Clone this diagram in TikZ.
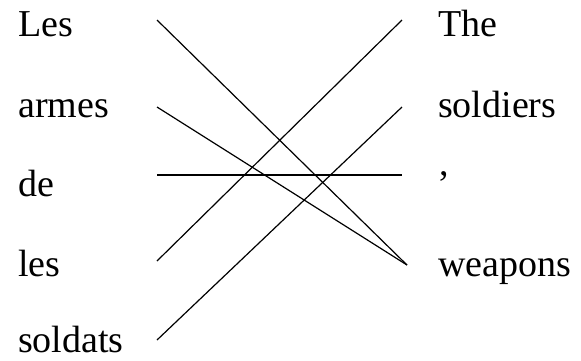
\documentclass[tikz,border=0pt]{standalone}
\usepackage{fontspec}
\setmainfont{Liberation Serif}
\usetikzlibrary{positioning}

\begin{document}
\begin{tikzpicture}[
  x=1pt, y=-1pt,
  palabra/.style={anchor=base west, inner sep=0pt, font=\fontsize{38}{40}\selectfont},
  enlace/.style={line width=1.2pt}
]
\useasboundingbox (0,0) rectangle (581,360);

% source side
\node[palabra] (les1) at (18,36) {Les};
\node[palabra] (armes) at (18,117) {armes};
\node[palabra] (de) at (18,196) {de};
\node[palabra] (les2) at (18,276) {les};
\node[palabra] (soldats) at (18,352) {soldats};

% target side
\node[palabra] (the) at (438,36) {The};
\node[palabra] (soldiers) at (438,117) {soldiers};
\node[palabra] (coma) at (439,175) {,};
\node[palabra] (weapons) at (438,276) {weapons};

% line ends
\coordinate (sLes) at (157,20);
\coordinate (sArmes) at (157,107);
\coordinate (sDe) at (157,175);
\coordinate (sLes2) at (157,261);
\coordinate (sSoldats) at (157,340);
\coordinate (tThe) at (402,20);
\coordinate (tSoldiers) at (402,107);
\coordinate (tComa) at (402,175);
\coordinate (tWeapons) at (407,265);

\draw[enlace] (sLes) -- (tWeapons);
\draw[enlace] (sArmes) -- (tWeapons);
\draw[enlace] (sDe) -- (tComa);
\draw[enlace] (sLes2) -- (tThe);
\draw[enlace] (sSoldats) -- (tSoldiers);
\end{tikzpicture}
\end{document}
